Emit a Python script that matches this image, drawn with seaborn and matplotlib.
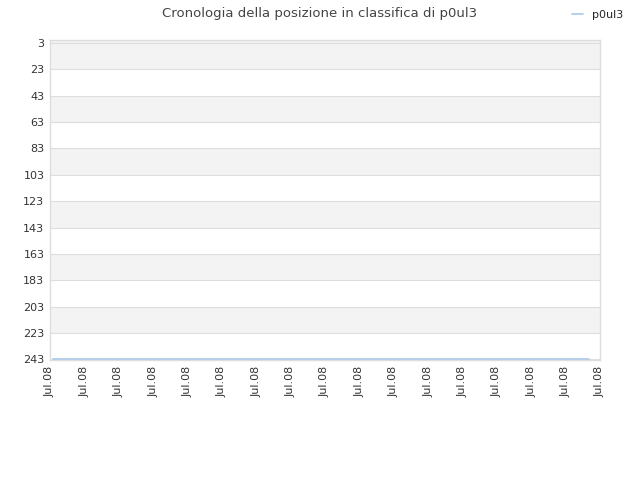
import pandas as pd
import numpy as np
import matplotlib
matplotlib.use("Agg")
from matplotlib import pyplot as plt
import matplotlib.dates as mdates
import seaborn as sea

player = "p0ul3"
dates = ["2008-07-01 02:00", "2008-07-16 16:00"]
ranks = [243, 243]
y_ticks = [3, 23, 43, 63, 83, 103, 123, 143, 163, 183, 203, 223, 243]
x_ticks = pd.date_range("2008-07-01", "2008-07-17", freq="D")

df = pd.DataFrame({"date": pd.to_datetime(dates), "rank": ranks})

sea.set_style("white")
plt.rcParams["font.family"] = ["DejaVu Sans"]

fig = plt.figure(figsize=(6.4, 4.8), dpi=100)
ax = fig.add_axes([50 / 640, 1 - 360 / 480, 550 / 640, 320 / 480])

# alternating bands between grid lines
for i in range(len(y_ticks) - 1):
    if i % 2 == 0:
        ax.axhspan(y_ticks[i], y_ticks[i + 1], color="#f3f3f3", zorder=0, lw=0)
ax.axhspan(0.7, 3, color="#f3f3f3", zorder=0, lw=0)

sea.lineplot(x="date", y="rank", data=df, ax=ax, color="#a8c8ec", lw=1.2, label=player)

ax.set_ylim(243.5, 0.7)
ax.set_yticks(y_ticks)
ax.set_xlim(x_ticks[0], x_ticks[-1])
ax.set_xticks(x_ticks)
ax.set_xticklabels(["Jul.08"] * len(x_ticks), rotation=90)
ax.yaxis.grid(True, color="#dddddd", lw=0.8)
ax.set_axisbelow(True)
ax.set_xlabel("")
ax.set_ylabel("")
ax.tick_params(axis="both", labelsize=8, colors="#333333", length=0, pad=4)
for s in ax.spines.values():
    s.set_color("#dddddd")
    s.set_linewidth(1)

fig.suptitle("Cronologia della posizione in classifica di p0ul3", x=0.5, y=0.985,
             fontsize=9.5, color="#444444")
ax.legend(loc="upper right", bbox_to_anchor=(0.99, 1.0), bbox_transform=fig.transFigure,
          frameon=False, fontsize=8, handlelength=1.0)

plt.savefig("out.png")
